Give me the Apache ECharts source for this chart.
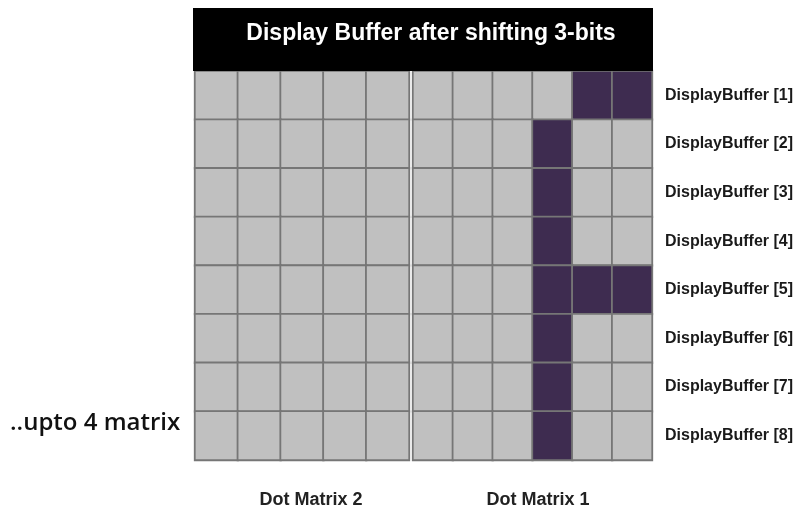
<!DOCTYPE html>
<html><head><meta charset="utf-8">
<script src="https://cdn.jsdelivr.net/npm/echarts@6/dist/echarts.min.js"></script>
<style>html,body{margin:0;padding:0;background:#fff}#c{width:809px;height:514px}</style>
</head><body><div id="c"></div>
<script>
const titleText = 'Display Buffer after shifting 3-bits';
const rowLabels = ['DisplayBuffer [1]','DisplayBuffer [2]','DisplayBuffer [3]','DisplayBuffer [4]','DisplayBuffer [5]','DisplayBuffer [6]','DisplayBuffer [7]','DisplayBuffer [8]'];
const matrix2Name = 'Dot Matrix 2';
const matrix1Name = 'Dot Matrix 1';
const sideNote = '..upto 4 matrix';
const matrix2Cols = ['c1','c2','c3','c4','c5'];
const matrix1Cols = ['c1','c2','c3','c4','c5','c6'];
// bits per row (1 = lit)
const matrix2Bits = [
  [0,0,0,0,0],[0,0,0,0,0],[0,0,0,0,0],[0,0,0,0,0],
  [0,0,0,0,0],[0,0,0,0,0],[0,0,0,0,0],[0,0,0,0,0]
];
const matrix1Bits = [
  [0,0,0,0,1,1],
  [0,0,0,1,0,0],
  [0,0,0,1,0,0],
  [0,0,0,1,0,0],
  [0,0,0,1,1,1],
  [0,0,0,1,0,0],
  [0,0,0,1,0,0],
  [0,0,0,1,0,0]
];
function toData(bits){const d=[];bits.forEach((r,ri)=>r.forEach((v,ci)=>d.push([ci,ri,v])));return d;}
const chart = echarts.init(document.getElementById('c'),null,{renderer:'canvas'});
const lblFont = '"Liberation Sans",Arial,sans-serif';
const cellBorder = {borderColor:'#767676',borderWidth:1.8};
chart.setOption({
  animation:false,
  grid:[
    {left:195,top:71,width:214,height:389,outerBoundsMode:'none',containLabel:false},
    {left:413,top:71,width:239,height:389,outerBoundsMode:'none',containLabel:false}
  ],
  xAxis:[
    {type:'category',gridIndex:0,data:matrix2Cols,axisLine:{show:false},axisTick:{show:false},axisLabel:{show:false},splitLine:{show:false},
     name:matrix2Name,nameLocation:'middle',nameGap:31,nameTextStyle:{fontFamily:lblFont,fontWeight:'bold',fontSize:18,color:'#222',padding:[0,0,0,18]}},
    {type:'category',gridIndex:1,data:matrix1Cols,axisLine:{show:false},axisTick:{show:false},axisLabel:{show:false},splitLine:{show:false},
     name:matrix1Name,nameLocation:'middle',nameGap:31,nameTextStyle:{fontFamily:lblFont,fontWeight:'bold',fontSize:18,color:'#222',padding:[0,0,0,11]}}
  ],
  yAxis:[
    {type:'category',gridIndex:0,inverse:true,data:rowLabels,axisLine:{show:false},axisTick:{show:false},axisLabel:{show:false},splitLine:{show:false}},
    {type:'category',gridIndex:1,inverse:true,position:'right',data:rowLabels,axisLine:{show:false},axisTick:{show:false},splitLine:{show:false},
     axisLabel:{show:true,margin:13,fontFamily:lblFont,fontWeight:'bold',fontSize:16,color:'#1a1a1a'}}
  ],
  visualMap:{show:false,type:'piecewise',dimension:2,seriesIndex:[0,1],pieces:[{value:0,color:'#c0c0c0'},{value:1,color:'#3e2c50'}]},
  series:[
    {type:'heatmap',xAxisIndex:0,yAxisIndex:0,data:toData(matrix2Bits),itemStyle:cellBorder,emphasis:{disabled:true}},
    {type:'heatmap',xAxisIndex:1,yAxisIndex:1,data:toData(matrix1Bits),itemStyle:cellBorder,emphasis:{disabled:true}}
  ],
  graphic:[
    {type:'rect',left:193,top:8,shape:{width:460,height:63},style:{fill:'#000'},z:10},
    {type:'text',x:431,y:34,z:11,style:{text:titleText,fill:'#fff',font:'bold 23px "Liberation Sans",Arial,sans-serif',textAlign:'center',textVerticalAlign:'middle'}},
    {type:'text',x:10,y:423,z:11,style:{text:sideNote,fill:'#111',font:'600 24px "Open Sans","Noto Sans",sans-serif',textAlign:'left',textVerticalAlign:'middle'}}
  ]
});
</script></body></html>
